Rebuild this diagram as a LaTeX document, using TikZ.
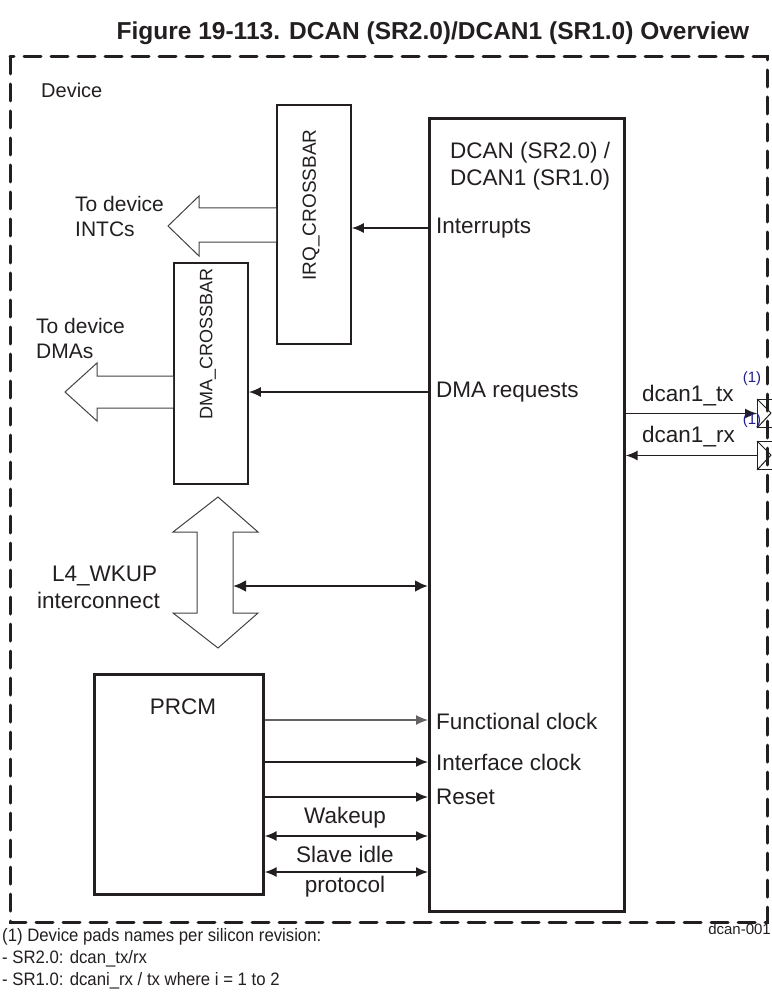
\documentclass[tikz,border=0pt]{standalone}
\usepackage{fontspec}
\setmainfont{Liberation Sans}
\usetikzlibrary{arrows.meta}
\definecolor{ink}{HTML}{231F20}
\definecolor{notecol}{HTML}{1F1F8F}
\begin{document}
\begin{tikzpicture}[x=1pt,y=-1pt,
  box/.style={draw=ink,line width=2.6pt,inner sep=0pt,anchor=north west},
  thinbox/.style={draw=ink,line width=1.8pt,inner sep=0pt,anchor=north west},
  lbl/.style={font=\fontsize{22.5}{26}\selectfont,text=ink,inner sep=0pt},
  rlbl/.style={font=\fontsize{19}{22}\selectfont,text=ink,inner sep=0pt,rotate=90},
  hollow/.style={draw=ink!85,line width=1pt,fill=white},
  arr/.style={draw=ink,line width=1.6pt,-{Latex[length=12pt,width=10pt]}},
  darr/.style={draw=ink,line width=1.6pt,{Latex[length=12pt,width=10pt]}-{Latex[length=12pt,width=10pt]}},
  note/.style={font=\fontsize{18}{21}\selectfont,text=ink,inner sep=0pt,anchor=west},
  sup/.style={font=\fontsize{15}{17}\selectfont,text=notecol,inner sep=0pt}]
\useasboundingbox (0,0) rectangle (771,1008);
\fill[white] (0,0) rectangle (771,1008);

% title
\node[font=\bfseries\fontsize{24.5}{28}\selectfont,text=ink,inner sep=0pt] (title) at (433,33)
  {Figure 19-113. DCAN (SR2.0)/DCAN1 (SR1.0) Overview};

% device border
\draw[ink,line width=3pt,line cap=round,dash pattern=on 17pt off 10pt] (10,57) rectangle (767,922);
\node[lbl,anchor=west,font=\fontsize{20}{23}\selectfont] (device) at (41,90) {Device};

% boxes
\node[box,minimum width=195pt,minimum height=793pt] (dcan) at (428,117) {};
\node[lbl,anchor=north west,align=left] (dcantxt) at (450,142) {DCAN (SR2.0) /\\[1pt]DCAN1 (SR1.0)};
\node[thinbox,minimum width=74pt,minimum height=239pt] (irq) at (276,104) {};
\node[rlbl] (irqtxt) at (311,205) {IRQ\_CROSSBAR};
\node[thinbox,minimum width=74pt,minimum height=221pt] (dma) at (173,262) {};
\node[rlbl,font=\fontsize{18}{21}\selectfont] (dmatxt) at (208,344) {DMA\_CROSSBAR};
\node[box,minimum width=169pt,minimum height=220pt] (prcm) at (93,673) {};
\node[lbl] (prcmtxt) at (183,707) {PRCM};

% hollow arrows
\draw[hollow] (irq.west |- 0,208) -- (199,208) -- (199,196) -- (168,226) -- (199,256) -- (199,242) -- (irq.west |- 0,242);
\node[lbl,anchor=west,align=left,font=\fontsize{21}{24}\selectfont] (intc) at (75,216) {To device\\[1pt]INTCs};
\draw[hollow] (dma.west |- 0,376) -- (97,376) -- (97,363) -- (65,392) -- (97,421) -- (97,408) -- (dma.west |- 0,408);
\node[lbl,anchor=west,align=left,font=\fontsize{21}{24}\selectfont] (dmas) at (36,338) {To device\\[1pt]DMAs};
\draw[hollow] (197,532) -- (173,532) -- (218,497) -- (258,532) -- (233,532) -- (233,613) -- (258,613) -- (218,648) -- (173,613) -- (197,613) -- cycle;
\coordinate (l4) at (233,586);
\node[lbl,anchor=west,align=left] (l4txt) at (37,587) {\hspace*{15pt}L4\_WKUP\\[1pt]interconnect};

% signals
\draw[arr] (dcan.west |- 0,228) -- (irq.east |- 0,228);
\node[lbl,anchor=west] (intr) at (436,228) {Interrupts};
\draw[arr] (dcan.west |- 0,392) -- (dma.east |- 0,392);
\node[lbl,anchor=west] (dmareq) at (436,392) {DMA requests};
\draw[ink,line width=2.8pt,{Latex[length=13pt,width=12pt]}-{Latex[length=13pt,width=12pt]}] (l4) -- (dcan.west |- l4);

\draw[draw=ink!70,line width=1.2pt,-{Latex[length=12pt,width=10pt]}] (prcm.east |- 0,720) -- (dcan.west |- 0,720);
\node[lbl,anchor=west] (fclk) at (436,721) {Functional clock};
\draw[arr] (prcm.east |- 0,762) -- (dcan.west |- 0,762);
\node[lbl,anchor=west] (iclk) at (436,762) {Interface clock};
\draw[arr] (prcm.east |- 0,797) -- (dcan.west |- 0,797);
\node[lbl,anchor=west] (rst) at (436,797) {Reset};
\draw[darr] (prcm.east |- 0,836) -- (dcan.west |- 0,836);
\node[lbl] (wk) at (345,818) {Wakeup};
\draw[darr] (prcm.east |- 0,872) -- (dcan.west |- 0,872);
\node[lbl] (sidle) at (345,854) {Slave idle};
\node[lbl] (proto) at (345,887) {protocol};

% pads
\node[draw=ink,line width=1pt,minimum width=20pt,minimum height=28pt,inner sep=0,anchor=north west] (padtx) at (757,399) {};
\draw[ink,line width=1pt] (padtx.north west) -- (771,413) -- (padtx.south west);
\node[draw=ink,line width=1pt,minimum width=20pt,minimum height=28pt,inner sep=0,anchor=north west] (padrx) at (757,441) {};
\draw[ink,line width=1pt] (padrx.north west) -- (771,455) -- (padrx.south west);
\draw[arr] (dcan.east |- padtx.west) -- (padtx.west);
\node[lbl,anchor=west] (tx) at (642,396) {dcan1\_tx};
\node[sup] (s1) at (752,379) {(1)};
\draw[arr] (padrx.west) -- (dcan.east |- padrx.west);
\node[lbl,anchor=west] (rx) at (642,437) {dcan1\_rx};
\node[sup] (s2) at (752,421) {(1)};

% notes
\node[font=\fontsize{15}{17}\selectfont,text=ink,inner sep=0pt,anchor=east] (code) at (771,929) {dcan-001};
\node[note] (n1) at (2,937) {\scalebox{0.93}[1]{(1) Device pads names per silicon revision:}};
\node[note] (n2) at (2,959) {\scalebox{0.93}[1]{- SR2.0: dcan\_tx/rx}};
\node[note] (n3) at (2,981) {\scalebox{0.93}[1]{- SR1.0: dcani\_rx / tx where i = 1 to 2}};
\end{tikzpicture}
\end{document}
